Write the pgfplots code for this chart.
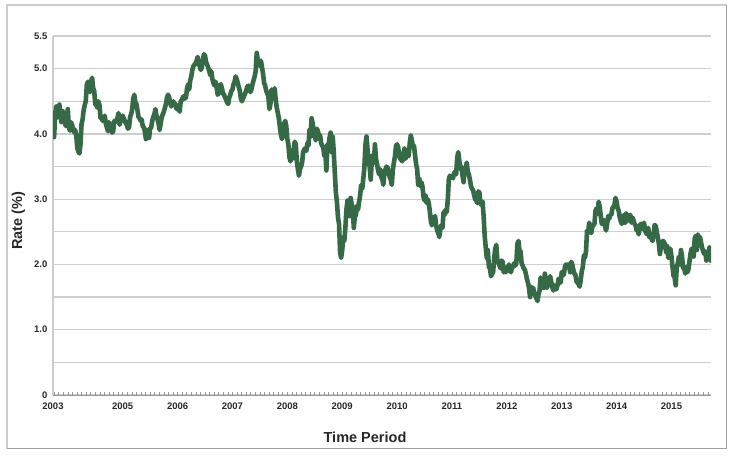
\documentclass[border=0pt]{standalone}
\usepackage{fontspec}
\setmainfont{Liberation Sans}
\usepackage{pgfplots}
\pgfplotsset{compat=1.18}
\definecolor{linegreen}{RGB}{54,106,70}
\definecolor{gridgray}{RGB}{206,206,206}
\definecolor{axgray}{RGB}{150,150,150}
\definecolor{txt}{RGB}{40,40,40}
\begin{document}
\begin{tikzpicture}[x=1pt,y=1pt]
\path[use as bounding box] (0,0) rectangle (736,457);
\fill[white] (0,0) rectangle (736,457);
\draw[gray!40, line width=1.2pt] (7,8.5) rectangle (726.5,452);
\draw[gray!75, line width=1.6pt] (726.5,452) -- (726.5,8.5) -- (7,8.5);
\begin{axis}[
  at={(53pt,62pt)}, anchor=south west, scale only axis,
  width=658pt, height=359pt,
  xmin=2003.73, xmax=2015.72, ymin=0, ymax=5.5,
  axis x line=bottom, axis y line=left,
  axis line style={-},
  x axis line style={draw=axgray, line width=0.8pt},
  y axis line style={draw=gridgray, line width=1.2pt},
  ytick={0,0.5,1,1.5,2,2.5,3,3.5,4,4.5,5,5.5},
  yticklabels={0,,1.0,,2.0,,3.0,,4.0,,5.0,5.5},
  ymajorgrids, major grid style={draw=gridgray, line width=1.2pt},
  xtick={2003.73,2005,2006,2007,2008,2009,2010,2011,2012,2013,2014,2015},
  xticklabels={2003,2005,2006,2007,2008,2009,2010,2011,2012,2013,2014,2015},
  minor xtick={2003.75,2003.8333333,...,2015.7},
  tick align=inside,
  major tick length=0pt, minor tick length=3pt,
  minor x tick style={draw=axgray, line width=0.6pt},
  tick label style={font=\bfseries\fontsize{9.5}{11}\selectfont, text=txt},
  yticklabel style={inner sep=0pt, xshift=-5.5pt},
  xticklabel style={inner sep=0pt, yshift=-8pt},
]
\addplot[linegreen, line width=4.6pt, line join=round, line cap=round]
  table[row sep=\\, x expr=2003.75+\coordindex/52, y index=0] {
y\\
3.95\\4.30\\4.42\\4.25\\4.32\\4.45\\4.28\\4.18\\4.35\\4.24\\4.22\\4.12\\4.27\\
4.38\\4.10\\4.05\\4.18\\4.14\\4.08\\4.02\\4.06\\3.98\\3.78\\3.73\\3.70\\3.84\\
4.15\\4.22\\4.36\\4.44\\4.50\\4.75\\4.80\\4.68\\4.64\\4.80\\4.86\\4.70\\4.66\\
4.45\\4.46\\4.40\\4.50\\4.44\\4.24\\4.26\\4.20\\4.22\\4.28\\4.16\\4.10\\4.04\\
4.18\\4.14\\4.06\\4.02\\4.04\\4.20\\4.18\\4.21\\4.24\\4.32\\4.14\\4.20\\4.24\\
4.28\\4.24\\4.20\\4.16\\4.14\\4.08\\4.10\\4.26\\4.30\\4.38\\4.54\\4.60\\4.48\\
4.46\\4.36\\4.26\\4.24\\4.20\\4.22\\4.12\\4.10\\4.04\\3.92\\4.06\\4.06\\3.94\\
4.08\\4.10\\4.20\\4.26\\4.30\\4.38\\4.28\\4.22\\4.16\\4.06\\4.16\\4.26\\4.30\\
4.34\\4.40\\4.46\\4.56\\4.60\\4.56\\4.48\\4.42\\4.46\\4.50\\4.44\\4.46\\4.38\\
4.38\\4.40\\4.34\\4.50\\4.52\\4.56\\4.58\\4.54\\4.56\\4.70\\4.76\\4.68\\4.82\\
4.88\\4.98\\5.04\\5.06\\5.08\\5.12\\5.18\\5.06\\5.04\\4.98\\5.02\\5.14\\5.22\\
5.20\\5.10\\5.06\\5.02\\4.96\\4.90\\4.96\\4.84\\4.78\\4.74\\4.80\\4.72\\4.60\\
4.62\\4.74\\4.76\\4.70\\4.62\\4.60\\4.56\\4.52\\4.48\\4.46\\4.56\\4.60\\4.66\\
4.68\\4.76\\4.80\\4.88\\4.84\\4.78\\4.72\\4.66\\4.54\\4.50\\4.54\\4.58\\4.62\\
4.66\\4.72\\4.74\\4.70\\4.64\\4.68\\4.76\\4.82\\4.88\\4.96\\5.24\\5.14\\5.12\\
5.04\\5.12\\5.02\\4.92\\4.78\\4.74\\4.66\\4.62\\4.58\\4.38\\4.46\\4.68\\4.60\\
4.62\\4.70\\4.52\\4.40\\4.32\\4.24\\4.10\\3.98\\3.92\\4.06\\4.16\\4.20\\4.12\\
3.92\\3.84\\3.64\\3.58\\3.68\\3.62\\3.76\\3.88\\3.84\\3.58\\3.46\\3.36\\3.46\\
3.50\\3.56\\3.72\\3.76\\3.78\\3.74\\3.86\\3.82\\4.06\\3.96\\4.24\\4.16\\4.04\\
3.96\\3.90\\4.08\\4.04\\3.96\\3.98\\3.86\\3.82\\3.80\\3.66\\3.72\\3.44\\3.84\\
3.80\\3.94\\4.02\\3.72\\3.96\\3.72\\3.40\\3.10\\2.96\\2.72\\2.62\\2.18\\2.10\\
2.22\\2.42\\2.36\\2.56\\2.84\\2.98\\2.86\\2.74\\3.02\\2.92\\2.84\\2.56\\2.74\\
2.76\\2.90\\2.84\\2.96\\3.06\\3.22\\3.16\\3.32\\3.48\\3.84\\3.96\\3.76\\3.58\\
3.50\\3.30\\3.58\\3.68\\3.56\\3.84\\3.62\\3.54\\3.44\\3.38\\3.46\\3.34\\3.30\\
3.22\\3.40\\3.46\\3.50\\3.48\\3.40\\3.34\\3.30\\3.22\\3.46\\3.56\\3.66\\3.82\\
3.84\\3.80\\3.66\\3.62\\3.60\\3.58\\3.70\\3.78\\3.62\\3.68\\3.70\\3.66\\3.86\\
3.98\\3.90\\3.80\\3.82\\3.68\\3.54\\3.46\\3.22\\3.32\\3.20\\3.26\\3.20\\3.04\\
2.98\\3.06\\2.94\\3.00\\2.94\\2.82\\2.66\\2.60\\2.64\\2.72\\2.74\\2.60\\2.52\\
2.48\\2.42\\2.56\\2.60\\2.56\\2.80\\2.76\\2.84\\2.80\\2.98\\3.30\\3.36\\3.34\\
3.34\\3.32\\3.40\\3.42\\3.38\\3.64\\3.72\\3.58\\3.46\\3.50\\3.36\\3.26\\3.46\\
3.46\\3.56\\3.42\\3.38\\3.30\\3.20\\3.16\\3.14\\3.06\\3.00\\2.98\\2.94\\3.12\\
3.10\\2.92\\2.96\\2.96\\2.74\\2.44\\2.26\\2.10\\2.22\\1.96\\1.94\\1.82\\1.86\\
1.88\\2.10\\2.24\\2.30\\2.06\\2.04\\1.98\\1.94\\2.06\\2.04\\1.88\\1.94\\1.88\\
1.96\\1.90\\2.00\\1.92\\1.88\\1.98\\1.96\\2.02\\1.98\\2.02\\2.32\\2.36\\2.20\\
2.20\\2.02\\1.98\\1.94\\1.92\\1.86\\1.78\\1.72\\1.64\\1.50\\1.66\\1.60\\1.64\\
1.56\\1.52\\1.48\\1.44\\1.54\\1.60\\1.80\\1.74\\1.64\\1.64\\1.86\\1.74\\1.64\\
1.72\\1.68\\1.82\\1.74\\1.66\\1.60\\1.68\\1.62\\1.62\\1.68\\1.78\\1.76\\1.72\\
1.88\\1.88\\1.84\\1.96\\2.00\\1.96\\2.00\\1.98\\1.88\\2.04\\2.00\\1.92\\1.86\\
1.84\\1.74\\1.72\\1.70\\1.66\\1.76\\1.90\\1.96\\2.14\\2.10\\2.20\\2.52\\2.48\\
2.64\\2.58\\2.48\\2.58\\2.60\\2.62\\2.82\\2.86\\2.78\\2.96\\2.88\\2.74\\2.62\\
2.64\\2.68\\2.58\\2.52\\2.62\\2.74\\2.70\\2.76\\2.76\\2.86\\2.88\\2.92\\3.02\\
2.96\\2.86\\2.82\\2.72\\2.66\\2.62\\2.72\\2.76\\2.64\\2.78\\2.66\\2.76\\2.72\\
2.76\\2.64\\2.72\\2.68\\2.62\\2.60\\2.52\\2.54\\2.46\\2.60\\2.62\\2.62\\2.54\\
2.64\\2.52\\2.48\\2.46\\2.56\\2.42\\2.42\\2.40\\2.36\\2.46\\2.60\\2.60\\2.50\\
2.42\\2.32\\2.16\\2.26\\2.34\\2.36\\2.34\\2.30\\2.18\\2.28\\2.10\\2.18\\2.24\\
2.12\\1.96\\1.82\\1.80\\1.68\\1.96\\2.02\\2.12\\2.00\\2.22\\2.12\\1.94\\1.96\\
1.86\\1.96\\1.88\\1.92\\2.04\\2.16\\2.24\\2.22\\2.12\\2.40\\2.44\\2.22\\2.46\\
2.38\\2.42\\2.34\\2.26\\2.20\\2.16\\2.20\\2.06\\2.18\\2.14\\2.26\\2.06\\
};
\end{axis}
\node[font=\bfseries\fontsize{14.5}{16}\selectfont, text=txt] at (365,20) {Time Period};
\node[font=\bfseries\fontsize{14.5}{16}\selectfont, text=txt, rotate=90] at (18.5,236) {Rate (\%)};
\end{tikzpicture}
\end{document}
